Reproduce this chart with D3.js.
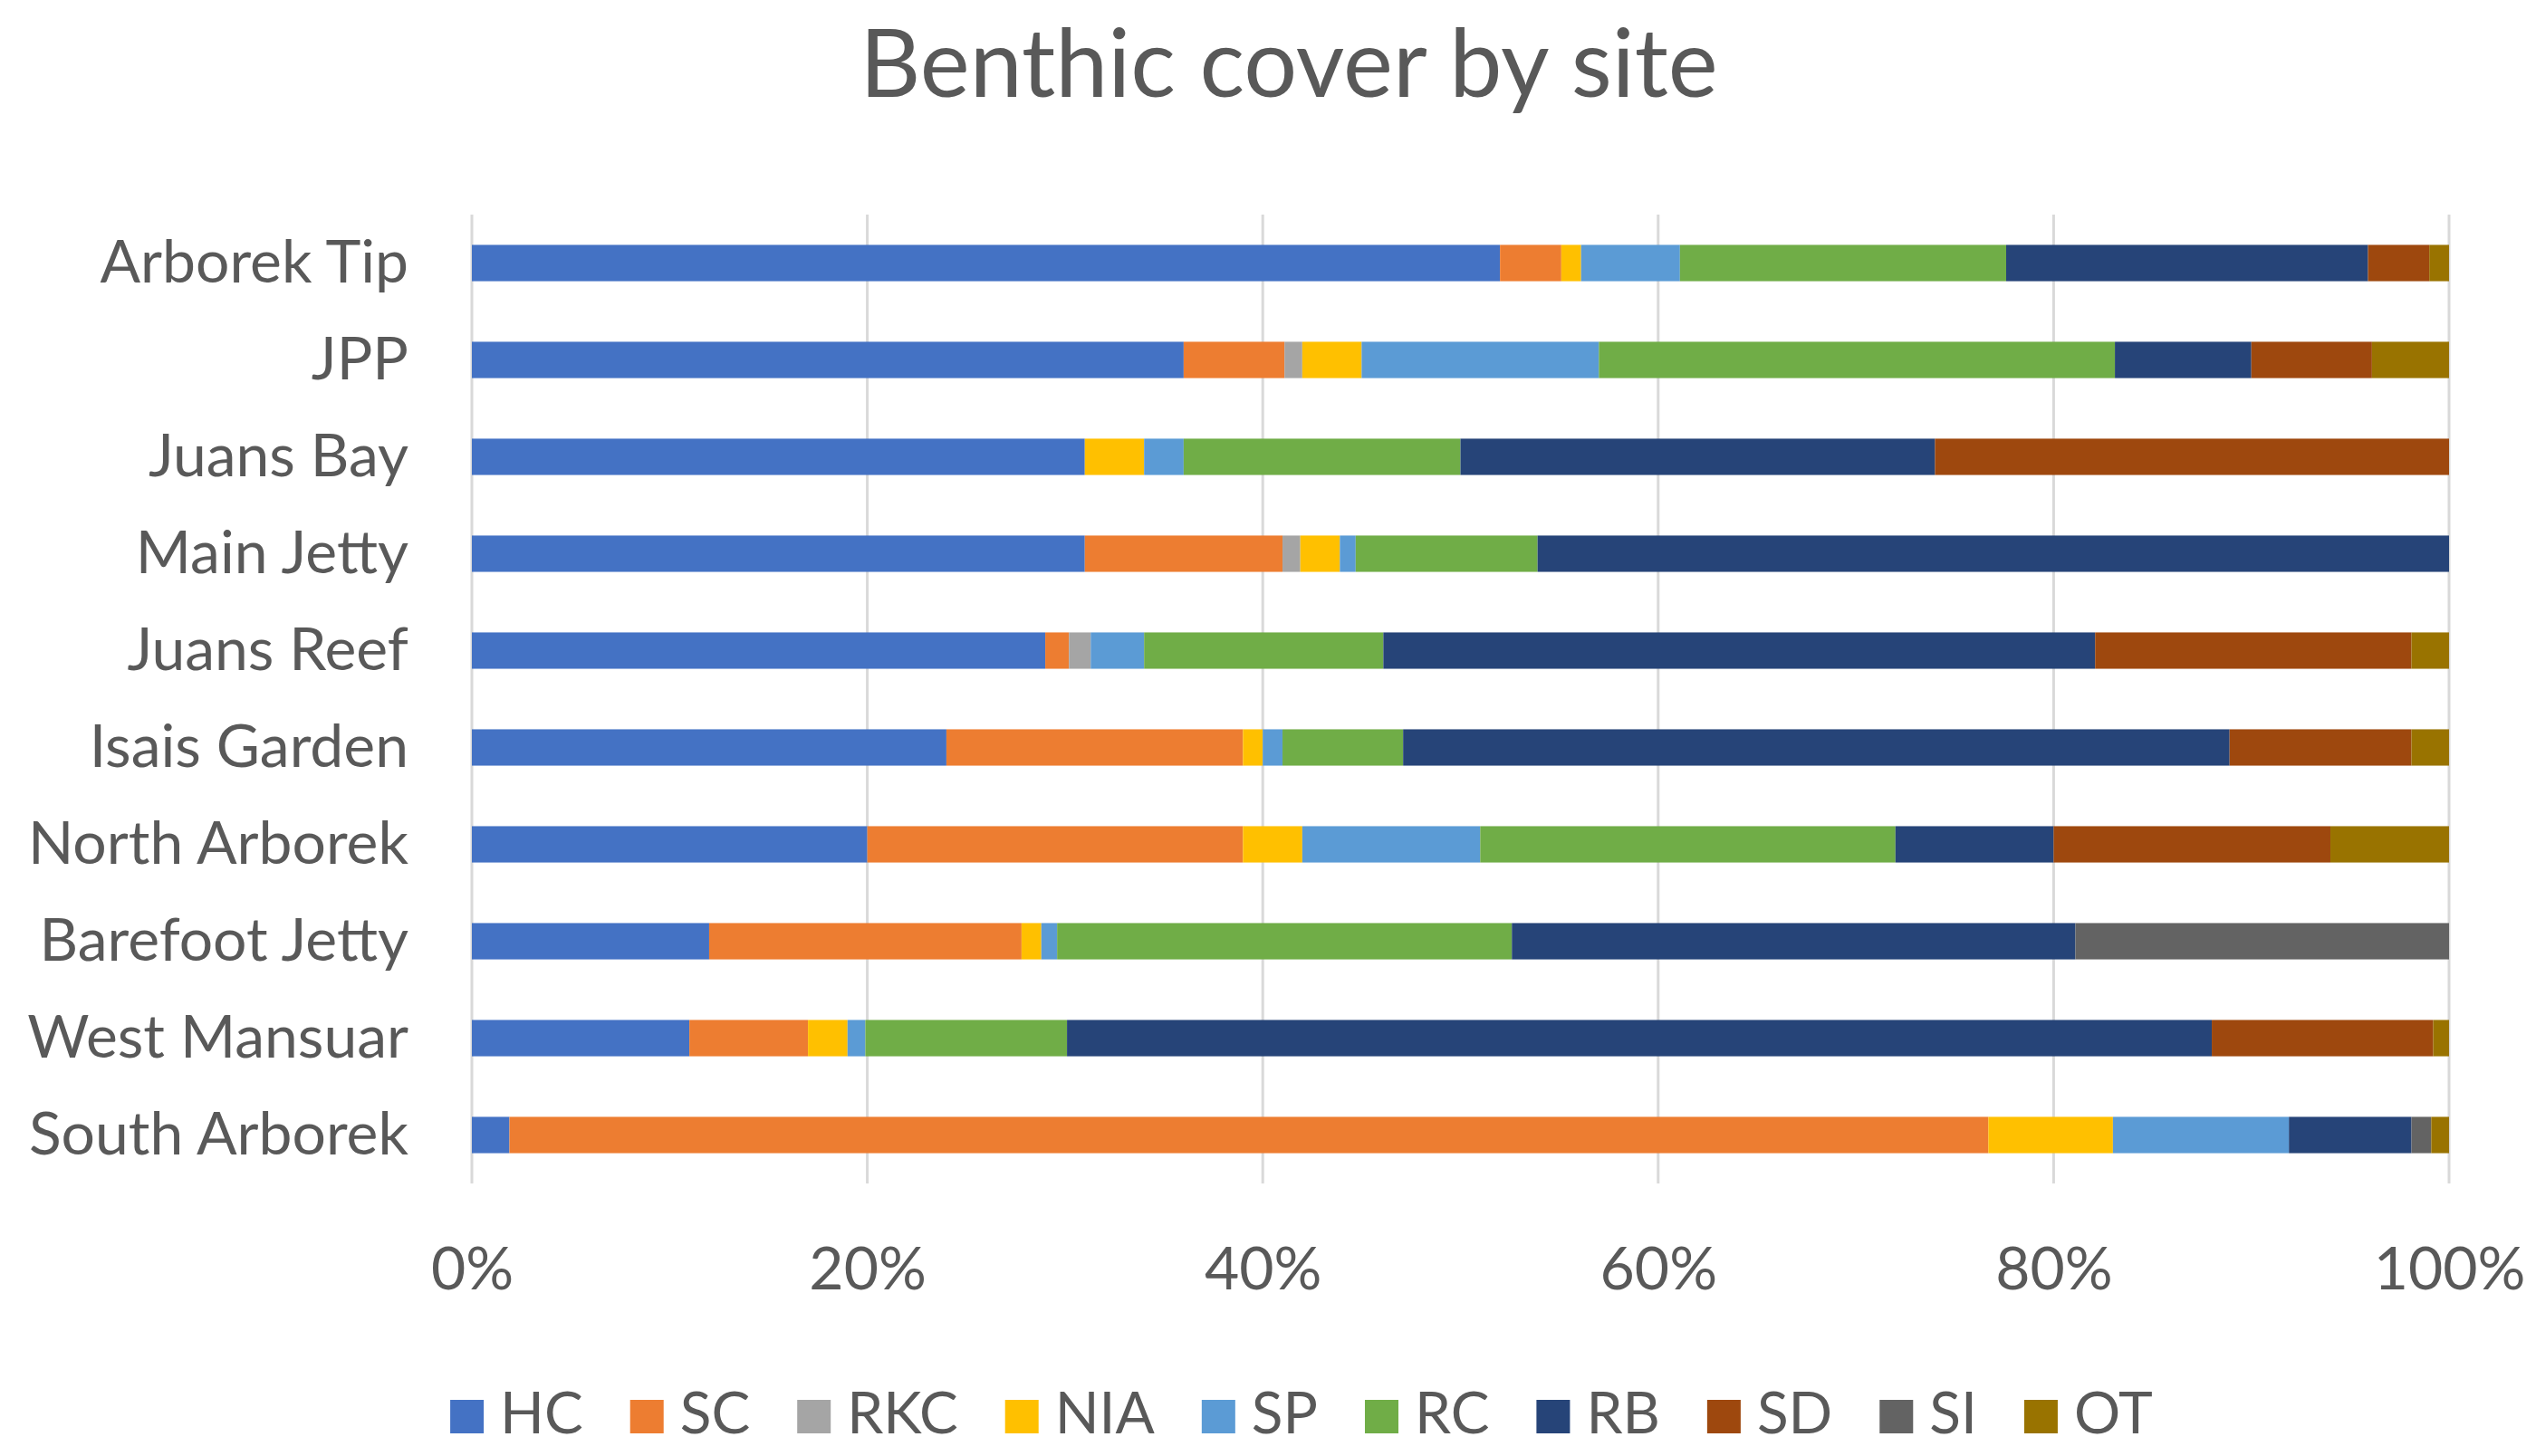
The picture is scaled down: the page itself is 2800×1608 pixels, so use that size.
<!DOCTYPE html>
<html>
<head>
<meta charset="utf-8">
<script src="https://cdn.jsdelivr.net/npm/d3@7"></script>
<style>
  html, body { margin: 0; padding: 0; background: #ffffff; }
  svg { display: block; }
  text { font-family: Lato, "Open Sans", sans-serif; fill: #595959; }
</style>
</head>
<body>
<svg id="chart" width="2800" height="1608"></svg>
<script>
// Sites, top to bottom
const sites = ["Arborek Tip", "JPP", "Juans Bay", "Main Jetty", "Juans Reef",
               "Isais Garden", "North Arborek", "Barefoot Jetty", "West Mansuar", "South Arborek"];

// Benthic categories (stack order, left to right)
const categories = ["HC", "SC", "RKC", "NIA", "SP", "RC", "RB", "SD", "SI", "OT"];
const colors = ["#4472C4", "#ED7D31", "#A5A5A5", "#FFC000", "#5B9BD5",
                "#70AD47", "#264478", "#9E480E", "#636363", "#997300"];

// Percent cover per category, one value per site (same order as sites)
const HC  = [52.0, 36.0, 31.0, 31.0, 29.0, 24.0, 20.0, 12.0, 11.0,  1.9];
const SC  = [ 3.1,  5.1,  0.0, 10.0,  1.2, 15.0, 19.0, 15.8,  6.0, 74.8];
const RKC = [ 0.0,  0.9,  0.0,  0.9,  1.1,  0.0,  0.0,  0.0,  0.0,  0.0];
const NIA = [ 1.0,  3.0,  3.0,  2.0,  0.0,  1.0,  3.0,  1.0,  2.0,  6.3];
const SP  = [ 5.0, 12.0,  2.0,  0.8,  2.7,  1.0,  9.0,  0.8,  0.9,  8.9];
const RC  = [16.5, 26.1, 14.0,  9.2, 12.1,  6.1, 21.0, 23.0, 10.2,  0.0];
const RB  = [18.3,  6.9, 24.0, 46.1, 36.0, 41.8,  8.0, 28.5, 57.9,  6.2];
const SD  = [ 3.1,  6.1, 26.0,  0.0, 16.0,  9.2, 14.0,  0.0, 11.2,  0.0];
const SI  = [ 0.0,  0.0,  0.0,  0.0,  0.0,  0.0,  0.0, 18.9,  0.0,  1.0];
const OT  = [ 1.0,  3.9,  0.0,  0.0,  1.9,  1.9,  6.0,  0.0,  0.8,  0.9];

const xTicks = [0, 0.2, 0.4, 0.6, 0.8, 1.0];

const series = [HC, SC, RKC, NIA, SP, RC, RB, SD, SI, OT];
const rows = sites.map((site, i) => {
  const r = { site };
  categories.forEach((c, j) => { r[c] = series[j][i]; });
  return r;
});

const svg = d3.select("#chart");
const margin = { left: 521, right: 96, top: 237, bottom: 301 };
const W = 2800, H = 1608;

const x = d3.scaleLinear().domain([0, 1]).range([margin.left, W - margin.right]);
const y = d3.scaleBand().domain(sites).range([margin.top, H - margin.bottom]).paddingInner(0.625).paddingOuter(0.3125);
const color = d3.scaleOrdinal().domain(categories).range(colors);

// Normalise each row to 100% and stack
const stacked = d3.stack().keys(categories).offset(d3.stackOffsetExpand)(rows);

// Title
svg.append("text")
  .attr("x", 1423).attr("y", 107)
  .attr("text-anchor", "middle")
  .style("font-size", "104px")
  .text("Benthic cover by site");

// Vertical gridlines
svg.append("g")
  .selectAll("line")
  .data(xTicks)
  .join("line")
  .attr("x1", d => x(d)).attr("x2", d => x(d))
  .attr("y1", margin.top).attr("y2", H - margin.bottom)
  .attr("stroke", "#d9d9d9").attr("stroke-width", 3);

// Bars
svg.append("g")
  .selectAll("g")
  .data(stacked)
  .join("g")
  .attr("fill", d => color(d.key))
  .selectAll("rect")
  .data(d => d)
  .join("rect")
  .attr("x", d => x(d[0]))
  .attr("width", d => Math.max(0, x(d[1]) - x(d[0])))
  .attr("y", d => y(d.data.site))
  .attr("height", y.bandwidth());

// Category axis labels
const yAxis = d3.axisLeft(y).tickSize(0).tickPadding(70);
const gy = svg.append("g").attr("transform", `translate(${margin.left},0)`).call(yAxis);
gy.select(".domain").remove();
gy.selectAll("text")
  .style("font-size", "66px")
  .style("font-family", "Lato, 'Open Sans', sans-serif")
  .attr("fill", "#595959");

// Percent axis labels
const xAxis = d3.axisBottom(x).tickValues(xTicks).tickFormat(d3.format(".0%")).tickSize(0).tickPadding(70);
const gx = svg.append("g").attr("transform", `translate(0,${H - margin.bottom})`).call(xAxis);
gx.select(".domain").remove();
gx.selectAll("text")
  .style("font-size", "66px")
  .style("font-family", "Lato, 'Open Sans', sans-serif")
  .attr("fill", "#595959");

// Legend
const legend = svg.append("g");
const sw = 37, gapText = 18, gapItem = 52, legendY = 1583;
let cx = 0;
categories.forEach(c => {
  const g = legend.append("g");
  g.append("rect").attr("x", 0).attr("y", legendY - sw).attr("width", sw).attr("height", sw).attr("fill", color(c));
  const t = g.append("text").attr("x", sw + gapText).attr("y", legendY).style("font-size", "64px").text(c);
  const w = sw + gapText + t.node().getComputedTextLength();
  g.attr("transform", `translate(${cx},0)`);
  cx += w + gapItem;
});
const totalW = cx - gapItem;
legend.attr("transform", `translate(${1437 - totalW / 2},0)`);
</script>
</body>
</html>
